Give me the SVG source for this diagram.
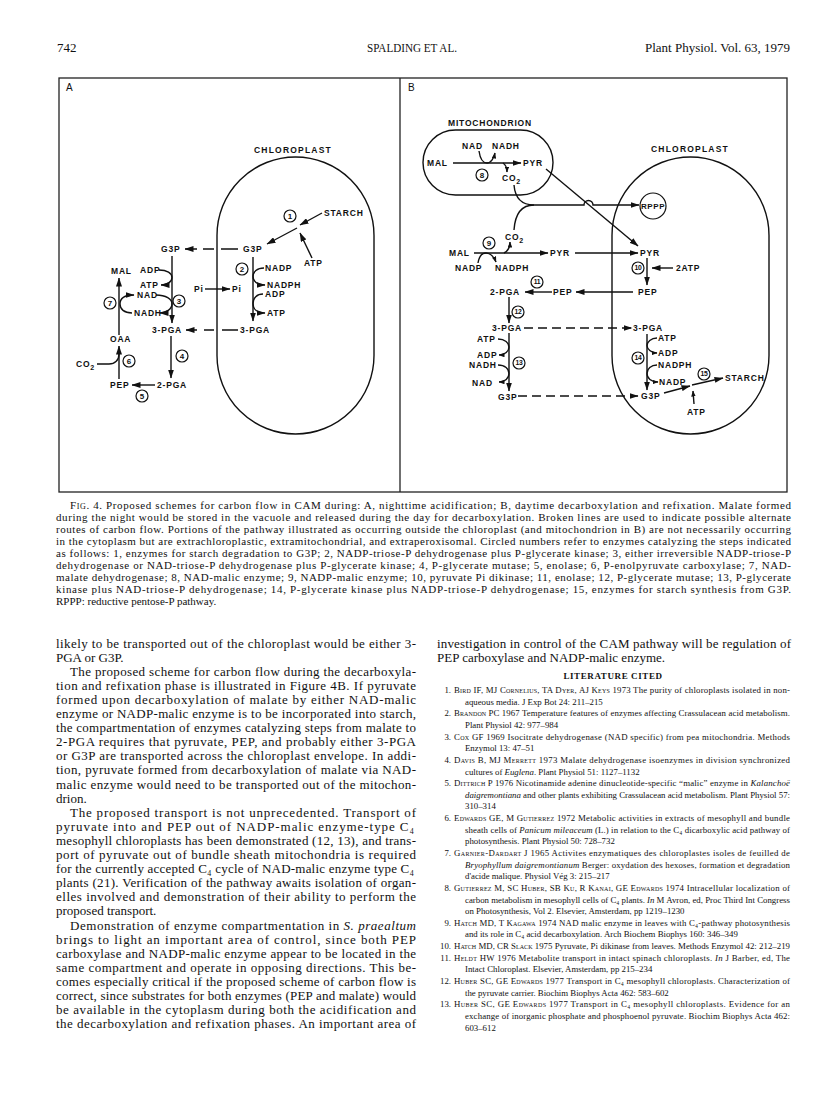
<svg xmlns="http://www.w3.org/2000/svg" width="816" height="1103" viewBox="0 0 816 1103">
<defs>
<marker id="ah" markerWidth="9" markerHeight="6" refX="8.5" refY="3" orient="auto" markerUnits="userSpaceOnUse"><path d="M0,0 L9,3 L0,6 Z" fill="#111"/></marker>
<marker id="as" markerWidth="6" markerHeight="4.5" refX="5.5" refY="2.25" orient="auto" markerUnits="userSpaceOnUse"><path d="M0,0 L6,2.25 L0,4.5 Z" fill="#111"/></marker>
<style>
.t{font-family:"Liberation Sans",Arial,sans-serif;font-weight:bold;font-size:8.5px;letter-spacing:0.8px;fill:#111}
.n{font-family:"Liberation Sans",Arial,sans-serif;font-weight:bold;font-size:8px;text-anchor:middle;fill:#111}
.n2{font-family:"Liberation Sans",Arial,sans-serif;font-weight:bold;font-size:6.8px;text-anchor:middle;fill:#111;letter-spacing:-0.3px}
.c{fill:none;stroke:#111;stroke-width:1.2}
.ln{fill:none;stroke:#111;stroke-width:1.4}
.ar{marker-end:url(#ah)}
.sa{marker-end:url(#as)}
.fr{fill:none;stroke:#222;stroke-width:1.3}
.s{font-family:"Liberation Serif","Times New Roman",serif;fill:#111}
.hd{font-size:13px}
.cap{font-size:11px}
.bd{font-size:13px}
.rf{font-size:8.8px}
.sc{font-variant:small-caps}
.it{font-style:italic}
</style>
</defs>

<g id="header" class="s hd">
<text x="57" y="52">742</text>
<text x="412" y="52" text-anchor="middle" textLength="90" lengthAdjust="spacingAndGlyphs">SPALDING ET AL.</text>
<text x="790" y="52" text-anchor="end">Plant Physiol. Vol. 63, 1979</text>
</g>

<g id="frame">
<rect class="fr" x="59" y="78" width="728" height="414"/>
<line class="fr" x1="400" y1="78" x2="400" y2="492"/>
<text x="66" y="91" font-family="Liberation Sans, Arial, sans-serif" font-size="10" fill="#111">A</text>
<text x="408" y="91" font-family="Liberation Sans, Arial, sans-serif" font-size="10" fill="#111">B</text>
</g>

<g id="chloroplast-a">
<path class="ln" d="M217,235.5 A78.5,78.5 0 0 1 374,235.5 V355.5 A78.5,78.5 0 0 1 217,355.5 Z"/>
<text class="t" x="254" y="153" style="letter-spacing:1.2px">CHLOROPLAST</text>
</g>
<g id="chloroplast-b">
<path class="ln" d="M612,235.5 A78.5,78.5 0 0 1 769,235.5 V355.5 A78.5,78.5 0 0 1 612,355.5 Z"/>
<text class="t" x="651" y="152" style="letter-spacing:1.2px">CHLOROPLAST</text>
</g>
<g id="mitochondrion">
<rect class="ln" x="423" y="130" width="130" height="65" rx="32.5"/>
<text class="t" x="448" y="126">MITOCHONDRION</text>
</g>
<g id="rppp">
<circle class="c" cx="653" cy="206" r="13"/>
<text class="t" x="653" y="209" text-anchor="middle" style="font-size:8px;letter-spacing:0.6px">RPPP</text>
</g>

<g id="connectors">
<path class="ln ar" d="M322,213 L300,225"/>
<path class="ln ar" d="M312,258 L300,233"/>
<path class="ln ar" d="M297,228 L267,244"/>
<path class="ln ar" d="M238,249 L185,249" stroke-dasharray="17 7 11 6 14"/>
<path class="ln ar" d="M172,256 L172,323"/>
<path class="ln ar" d="M159,270 C167,270 172,273 172,277.5 C172,282 167,285 161,285"/>
<path class="ln ar" d="M156,295 C166,295 172,299 172,304 C172,309 166,313 160,313"/>
<path class="ln ar" d="M119,379 L119,346"/>
<path class="ln ar" d="M119,335 L119,278"/>
<path class="ln ar" d="M132,313 C124,313 120,309 120,304 C120,299 124,295 134,295"/>
<path class="ln" d="M97,364 L109,364 C115,364 119,360 119,354"/>
<path class="ln ar" d="M205,289 L230,289"/>
<path class="ln ar" d="M253,257 L253,321"/>
<path class="ln ar" d="M264,268 C257,268 253,272 253,276.5 C253,281 257,285 265,285"/>
<path class="ln ar" d="M263,294 C257,294 253,298 253,303.5 C253,309 257,313 265,313"/>
<path class="ln ar" d="M238,330 L186,330" stroke-dasharray="16 8 10 7 14"/>
<path class="ln ar" d="M171,336 L171,378"/>
<path class="ln ar" d="M155,385 L132,385"/>
<path class="ln ar" d="M453,163 L521,163"/>
<path class="ln sa" d="M479,151 C480,158 483,163 487,163 C491,163 494,158 495,153"/>
<path class="ln sa" d="M503,163 C506,165 507,168 507,172"/>
<path class="ln" d="M514,185 C515,197 521,205 534,205"/>
<path class="ln" d="M514,230 C515,215 521,205 534,205"/>
<path class="ln ar" d="M534,205 L584,205 A4.5,4.5 0 0 1 593,205 L639,205"/>
<path class="ln ar" d="M546,169 L638,246"/>
<path class="ln ar" d="M474,253 L548,253"/>
<path class="ln sa" d="M478,263 C479,257 482,253 486,253 C490,253 494,257 496,262"/>
<path class="ln sa" d="M504,253 C508,251 510,247 510,242"/>
<path class="ln ar" d="M575,253 L638,253"/>
<path class="ln ar" d="M647,258 L647,285"/>
<path class="ln ar" d="M673,268 L652,268"/>
<path class="ln ar" d="M633,292 L576,292"/>
<path class="ln ar" d="M552,292 L525,292"/>
<path class="ln ar" d="M509,297 L509,323"/>
<path class="ln ar" d="M524,328 L632,328" stroke-dasharray="9 5"/>
<path class="ln ar" d="M509,333 L509,391"/>
<path class="ln sa" d="M498,339 C505,339 509,343 509,347 C509,351 505,355 499,355"/>
<path class="ln sa" d="M498,365 C505,365 509,369 509,373.5 C509,378 505,382 499,382"/>
<path class="ln ar" d="M518,396 L638,396" stroke-dasharray="9 5"/>
<path class="ln ar" d="M647,334 L647,390"/>
<path class="ln sa" d="M657,338 C651,338 647,342 647,345.5 C647,349 651,353 657,353"/>
<path class="ln sa" d="M657,365 C651,365 647,369 647,373.5 C647,378 651,382 658,382"/>
<path class="ln ar" d="M664,393 L690,386"/>
<path class="ln ar" d="M692,385 L723,378"/>
<path class="ln sa" d="M694,404 L693,391"/>
</g>

<g id="labels-a">
<g id="a-starch"><text class="t" x="324" y="216">STARCH</text></g>
<g id="a-atp1"><text class="t" x="304" y="266">ATP</text></g>
<g id="a-g3p-in"><text class="t" x="243" y="252">G3P</text></g>
<g id="a-g3p-out"><text class="t" x="161" y="252">G3P</text></g>
<g id="a-nadp"><text class="t" x="265" y="271">NADP</text></g>
<g id="a-mal"><text class="t" x="111" y="274">MAL</text></g>
<g id="a-adp1"><text class="t" x="140" y="273">ADP</text></g>
<g id="a-atp2"><text class="t" x="140" y="288">ATP</text></g>
<g id="a-nad"><text class="t" x="137" y="298">NAD</text></g>
<g id="a-nadh"><text class="t" x="134" y="316">NADH</text></g>
<g id="a-pi-out"><text class="t" x="194" y="292">Pi</text></g>
<g id="a-pi-in"><text class="t" x="232" y="292">Pi</text></g>
<g id="a-nadph"><text class="t" x="267" y="288">NADPH</text></g>
<g id="a-adp2"><text class="t" x="265" y="297">ADP</text></g>
<g id="a-atp3"><text class="t" x="267" y="316">ATP</text></g>
<g id="a-3pga-out"><text class="t" x="152" y="333">3-PGA</text></g>
<g id="a-3pga-in"><text class="t" x="240" y="333">3-PGA</text></g>
<g id="a-oaa"><text class="t" x="110" y="342">OAA</text></g>
<g id="a-co2"><text class="t" x="76" y="367">CO<tspan dy="3" style="font-size:7px">2</tspan></text></g>
<g id="a-pep"><text class="t" x="110" y="388">PEP</text></g>
<g id="a-2pga"><text class="t" x="157" y="388">2-PGA</text></g>
<g id="s1"><circle class="c" cx="290" cy="216" r="6"/><text class="n" x="290" y="218.9">1</text></g>
<g id="s2"><circle class="c" cx="242" cy="269" r="6"/><text class="n" x="242" y="271.9">2</text></g>
<g id="s3"><circle class="c" cx="179" cy="301" r="6"/><text class="n" x="179" y="303.9">3</text></g>
<g id="s4"><circle class="c" cx="182" cy="356" r="6"/><text class="n" x="182" y="358.9">4</text></g>
<g id="s5"><circle class="c" cx="142" cy="396" r="6"/><text class="n" x="142" y="398.9">5</text></g>
<g id="s6"><circle class="c" cx="129" cy="361" r="6"/><text class="n" x="129" y="363.9">6</text></g>
<g id="s7"><circle class="c" cx="110" cy="303" r="6"/><text class="n" x="110" y="305.9">7</text></g>
</g>

<g id="labels-b">
<g id="b-nad1"><text class="t" x="462" y="149">NAD</text></g>
<g id="b-nadh1"><text class="t" x="492" y="149">NADH</text></g>
<g id="b-mal1"><text class="t" x="427" y="166">MAL</text></g>
<g id="b-pyr1"><text class="t" x="523" y="166">PYR</text></g>
<g id="b-co2a"><text class="t" x="502" y="181">CO<tspan dy="3" style="font-size:7px">2</tspan></text></g>
<g id="b-co2b"><text class="t" x="505" y="240">CO<tspan dy="3" style="font-size:7px">2</tspan></text></g>
<g id="b-mal2"><text class="t" x="449" y="256">MAL</text></g>
<g id="b-pyr2"><text class="t" x="550" y="256">PYR</text></g>
<g id="b-pyr3"><text class="t" x="640" y="256">PYR</text></g>
<g id="b-nadp1"><text class="t" x="455" y="271">NADP</text></g>
<g id="b-nadph1"><text class="t" x="495" y="271">NADPH</text></g>
<g id="b-2atp"><text class="t" x="676" y="271">2ATP</text></g>
<g id="b-2pga"><text class="t" x="490" y="295">2-PGA</text></g>
<g id="b-pep1"><text class="t" x="553" y="295">PEP</text></g>
<g id="b-pep2"><text class="t" x="638" y="295">PEP</text></g>
<g id="b-3pga1"><text class="t" x="492" y="331">3-PGA</text></g>
<g id="b-3pga2"><text class="t" x="633" y="331">3-PGA</text></g>
<g id="b-atp1"><text class="t" x="477" y="342">ATP</text></g>
<g id="b-adp1"><text class="t" x="477" y="358">ADP</text></g>
<g id="b-nadh2"><text class="t" x="469" y="368">NADH</text></g>
<g id="b-nad2"><text class="t" x="472" y="386">NAD</text></g>
<g id="b-g3p1"><text class="t" x="498" y="400">G3P</text></g>
<g id="b-g3p2"><text class="t" x="641" y="399">G3P</text></g>
<g id="b-atp2"><text class="t" x="658" y="341">ATP</text></g>
<g id="b-adp2"><text class="t" x="658" y="356">ADP</text></g>
<g id="b-nadph2"><text class="t" x="658" y="368">NADPH</text></g>
<g id="b-nadp2"><text class="t" x="659" y="385">NADP</text></g>
<g id="b-starch"><text class="t" x="725" y="381">STARCH</text></g>
<g id="b-atp3"><text class="t" x="687" y="415">ATP</text></g>
<g id="s8"><circle class="c" cx="482" cy="175" r="6"/><text class="n" x="482" y="177.9">8</text></g>
<g id="s9"><circle class="c" cx="489" cy="243" r="6"/><text class="n" x="489" y="245.9">9</text></g>
<g id="s10"><circle class="c" cx="638" cy="268" r="6"/><text class="n2" x="638" y="270.4">10</text></g>
<g id="s11"><circle class="c" cx="537" cy="282" r="6"/><text class="n2" x="537" y="284.4">11</text></g>
<g id="s12"><circle class="c" cx="518" cy="312" r="6"/><text class="n2" x="518" y="314.4">12</text></g>
<g id="s13"><circle class="c" cx="519" cy="363" r="6"/><text class="n2" x="519" y="365.4">13</text></g>
<g id="s14"><circle class="c" cx="638" cy="358" r="6"/><text class="n2" x="638" y="360.4">14</text></g>
<g id="s15"><circle class="c" cx="704" cy="374" r="6"/><text class="n2" x="704" y="376.4">15</text></g>
</g>

<g id="caption" class="s cap">
<text x="70" y="508.5" textLength="721"><tspan class="sc">Fig</tspan>. 4. Proposed schemes for carbon flow in CAM during: A, nighttime acidification; B, daytime decarboxylation and refixation. Malate formed</text>
<text x="56" y="520.6" textLength="735">during the night would be stored in the vacuole and released during the day for decarboxylation. Broken lines are used to indicate possible alternate</text>
<text x="56" y="532.7" textLength="735">routes of carbon flow. Portions of the pathway illustrated as occurring outside the chloroplast (and mitochondrion in B) are not necessarily occurring</text>
<text x="56" y="544.8" textLength="735">in the cytoplasm but are extrachloroplastic, extramitochondrial, and extraperoxisomal. Circled numbers refer to enzymes catalyzing the steps indicated</text>
<text x="56" y="556.9" textLength="735">as follows: 1, enzymes for starch degradation to G3P; 2, NADP-triose-P dehydrogenase plus P-glycerate kinase; 3, either irreversible NADP-triose-P</text>
<text x="56" y="569" textLength="735">dehydrogenase or NAD-triose-P dehydrogenase plus P-glycerate kinase; 4, P-glycerate mutase; 5, enolase; 6, P-enolpyruvate carboxylase; 7, NAD-</text>
<text x="56" y="581.1" textLength="735">malate dehydrogenase; 8, NAD-malic enzyme; 9, NADP-malic enzyme; 10, pyruvate Pi dikinase; 11, enolase; 12, P-glycerate mutase; 13, P-glycerate</text>
<text x="56" y="593.2" textLength="735">kinase plus NAD-triose-P dehydrogenase; 14, P-glycerate kinase plus NADP-triose-P dehydrogenase; 15, enzymes for starch synthesis from G3P.</text>
<text x="56" y="605.3">RPPP: reductive pentose-P pathway.</text>
</g>

<g id="body-left" class="s bd">
<text x="56" y="647.5" textLength="360">likely to be transported out of the chloroplast would be either 3-</text>
<text x="56" y="661.6">PGA or G3P.</text>
<text x="70" y="675.7" textLength="346">The proposed scheme for carbon flow during the decarboxyla-</text>
<text x="56" y="689.8" textLength="360">tion and refixation phase is illustrated in Figure 4B. If pyruvate</text>
<text x="56" y="703.9" textLength="360">formed upon decarboxylation of malate by either NAD-malic</text>
<text x="56" y="718" textLength="360">enzyme or NADP-malic enzyme is to be incorporated into starch,</text>
<text x="56" y="732.1" textLength="360">the compartmentation of enzymes catalyzing steps from malate to</text>
<text x="56" y="746.2" textLength="360">2-PGA requires that pyruvate, PEP, and probably either 3-PGA</text>
<text x="56" y="760.3" textLength="360">or G3P are transported across the chloroplast envelope. In addi-</text>
<text x="56" y="774.4" textLength="360">tion, pyruvate formed from decarboxylation of malate via NAD-</text>
<text x="56" y="788.5" textLength="360">malic enzyme would need to be transported out of the mitochon-</text>
<text x="56" y="802.6">drion.</text>
<text x="70" y="816.7" textLength="346">The proposed transport is not unprecedented. Transport of</text>
<text x="56" y="830.8" textLength="358">pyruvate into and PEP out of NADP-malic enzyme-type C₄</text>
<text x="56" y="844.9" textLength="360">mesophyll chloroplasts has been demonstrated (12, 13), and trans-</text>
<text x="56" y="859" textLength="360">port of pyruvate out of bundle sheath mitochondria is required</text>
<text x="56" y="873.1" textLength="358">for the currently accepted C₄ cycle of NAD-malic enzyme type C₄</text>
<text x="56" y="887.2" textLength="360">plants (21). Verification of the pathway awaits isolation of organ-</text>
<text x="56" y="901.3" textLength="360">elles involved and demonstration of their ability to perform the</text>
<text x="56" y="915.4">proposed transport.</text>
<text x="70" y="929.5" textLength="346">Demonstration of enzyme compartmentation in <tspan class="it">S. praealtum</tspan></text>
<text x="56" y="943.6" textLength="360">brings to light an important area of control, since both PEP</text>
<text x="56" y="957.7" textLength="360">carboxylase and NADP-malic enzyme appear to be located in the</text>
<text x="56" y="971.8" textLength="360">same compartment and operate in opposing directions. This be-</text>
<text x="56" y="985.9" textLength="360">comes especially critical if the proposed scheme of carbon flow is</text>
<text x="56" y="1000" textLength="360">correct, since substrates for both enzymes (PEP and malate) would</text>
<text x="56" y="1014.1" textLength="360">be available in the cytoplasm during both the acidification and</text>
<text x="56" y="1028.2" textLength="360">the decarboxylation and refixation phases. An important area of</text>
</g>

<g id="body-right" class="s bd">
<text x="437" y="647.5" textLength="354">investigation in control of the CAM pathway will be regulation of</text>
<text x="437" y="661.6">PEP carboxylase and NADP-malic enzyme.</text>
</g>

<g id="references" class="s rf">
<text x="613" y="678.5" text-anchor="middle" font-weight="bold" font-size="9" letter-spacing="0.6">LITERATURE CITED</text>
<text x="451" y="693" text-anchor="end">1.</text>
<text x="454" y="693" textLength="336"><tspan class="sc">Bird</tspan> IF, MJ <tspan class="sc">Cornelius</tspan>, TA <tspan class="sc">Dyer</tspan>, AJ <tspan class="sc">Keys</tspan> 1973 The purity of chloroplasts isolated in non-</text>
<text x="465" y="704.6">aqueous media. J Exp Bot 24: 211–215</text>
<text x="451" y="716.3" text-anchor="end">2.</text>
<text x="454" y="716.3" textLength="336"><tspan class="sc">Brandon</tspan> PC 1967 Temperature features of enzymes affecting Crassulacean acid metabolism.</text>
<text x="465" y="727.9">Plant Physiol 42: 977–984</text>
<text x="451" y="739.6" text-anchor="end">3.</text>
<text x="454" y="739.6" textLength="336"><tspan class="sc">Cox</tspan> GF 1969 Isocitrate dehydrogenase (NAD specific) from pea mitochondria. Methods</text>
<text x="465" y="751.2">Enzymol 13: 47–51</text>
<text x="451" y="762.8" text-anchor="end">4.</text>
<text x="454" y="762.8" textLength="336"><tspan class="sc">Davis</tspan> B, MJ <tspan class="sc">Merrett</tspan> 1973 Malate dehydrogenase isoenzymes in division synchronized</text>
<text x="465" y="774.5">cultures of <tspan class="it">Euglena</tspan>. Plant Physiol 51: 1127–1132</text>
<text x="451" y="786.1" text-anchor="end">5.</text>
<text x="454" y="786.1" textLength="336"><tspan class="sc">Dittrich</tspan> P 1976 Nicotinamide adenine dinucleotide-specific “malic” enzyme in <tspan class="it">Kalanchoë</tspan></text>
<text x="465" y="797.8" textLength="325"><tspan class="it">daigremontiana</tspan> and other plants exhibiting Crassulacean acid metabolism. Plant Physiol 57:</text>
<text x="465" y="809.4">310–314</text>
<text x="451" y="821" text-anchor="end">6.</text>
<text x="454" y="821" textLength="336"><tspan class="sc">Edwards</tspan> GE, M <tspan class="sc">Gutierrez</tspan> 1972 Metabolic activities in extracts of mesophyll and bundle</text>
<text x="465" y="832.7" textLength="325">sheath cells of <tspan class="it">Panicum mileaceum</tspan> (L.) in relation to the C₄ dicarboxylic acid pathway of</text>
<text x="465" y="844.3">photosynthesis. Plant Physiol 50: 728–732</text>
<text x="451" y="856" text-anchor="end">7.</text>
<text x="454" y="856" textLength="336"><tspan class="sc">Garnier-Dardart</tspan> J 1965 Activites enzymatiques des chloroplastes isoles de feuilled de</text>
<text x="465" y="867.6" textLength="325"><tspan class="it">Bryophyllum daigremontianum</tspan> Berger: oxydation des hexoses, formation et degradation</text>
<text x="465" y="879.2">d'acide malique. Physiol Vég 3: 215–217</text>
<text x="451" y="890.9" text-anchor="end">8.</text>
<text x="454" y="890.9" textLength="336"><tspan class="sc">Gutierrez</tspan> M, SC <tspan class="sc">Huber</tspan>, SB <tspan class="sc">Ku</tspan>, R <tspan class="sc">Kanai</tspan>, GE <tspan class="sc">Edwards</tspan> 1974 Intracellular localization of</text>
<text x="465" y="902.5" textLength="325">carbon metabolism in mesophyll cells of C₄ plants. <tspan class="it">In</tspan> M Avron, ed, Proc Third Int Congress</text>
<text x="465" y="914.2">on Photosynthesis, Vol 2. Elsevier, Amsterdam, pp 1219–1230</text>
<text x="451" y="925.8" text-anchor="end">9.</text>
<text x="454" y="925.8" textLength="336"><tspan class="sc">Hatch</tspan> MD, T <tspan class="sc">Kagawa</tspan> 1974 NAD malic enzyme in leaves with C₄-pathway photosynthesis</text>
<text x="465" y="937.4">and its role in C₄ acid decarboxylation. Arch Biochem Biophys 160: 346–349</text>
<text x="451" y="949.1" text-anchor="end">10.</text>
<text x="454" y="949.1" textLength="336"><tspan class="sc">Hatch</tspan> MD, CR <tspan class="sc">Slack</tspan> 1975 Pyruvate, Pi dikinase from leaves. Methods Enzymol 42: 212–219</text>
<text x="451" y="960.7" text-anchor="end">11.</text>
<text x="454" y="960.7" textLength="336"><tspan class="sc">Heldt</tspan> HW 1976 Metabolite transport in intact spinach chloroplasts. <tspan class="it">In</tspan> J Barber, ed, The</text>
<text x="465" y="972.4">Intact Chloroplast. Elsevier, Amsterdam, pp 215–234</text>
<text x="451" y="984" text-anchor="end">12.</text>
<text x="454" y="984" textLength="336"><tspan class="sc">Huber</tspan> SC, GE <tspan class="sc">Edwards</tspan> 1977 Transport in C₄ mesophyll chloroplasts. Characterization of</text>
<text x="465" y="995.6">the pyruvate carrier. Biochim Biophys Acta 462: 583–602</text>
<text x="451" y="1007.3" text-anchor="end">13.</text>
<text x="454" y="1007.3" textLength="336"><tspan class="sc">Huber</tspan> SC, GE <tspan class="sc">Edwards</tspan> 1977 Transport in C₄ mesophyll chloroplasts. Evidence for an</text>
<text x="465" y="1018.9" textLength="325">exchange of inorganic phosphate and phosphoenol pyruvate. Biochim Biophys Acta 462:</text>
<text x="465" y="1030.6">603–612</text>
</g>
</svg>
